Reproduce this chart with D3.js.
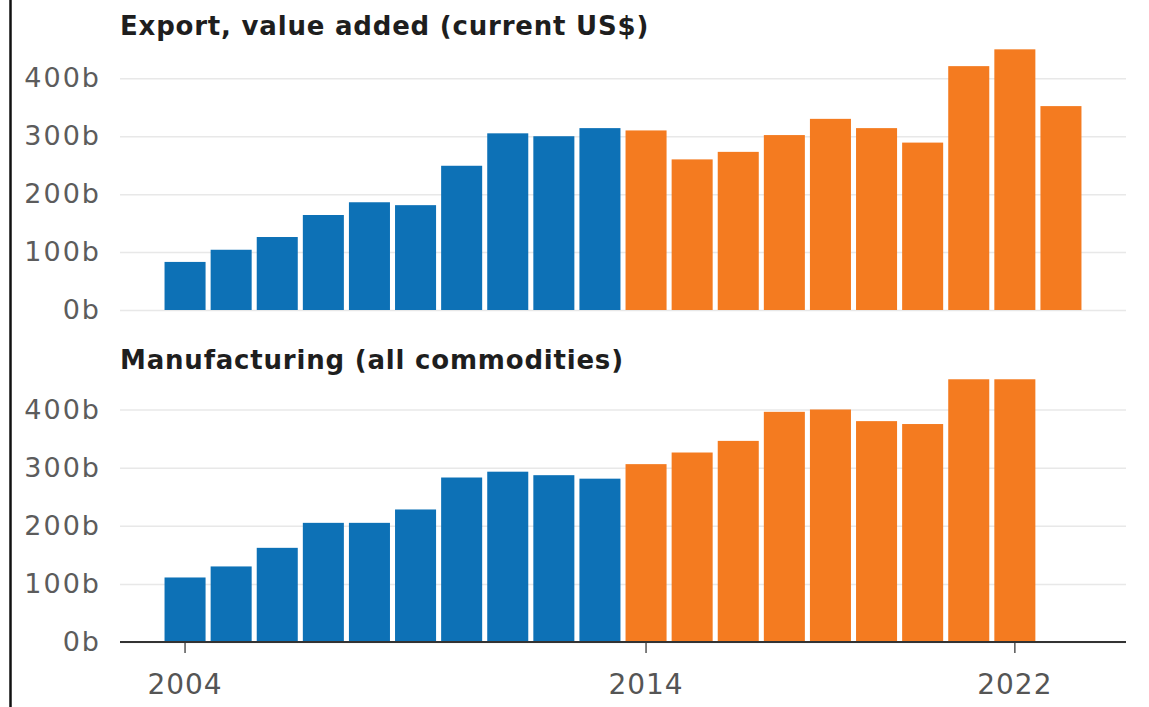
<!DOCTYPE html>
<html>
<head>
<meta charset="utf-8">
<script src="https://cdn.jsdelivr.net/npm/d3@7"></script>
<style>
  html, body { margin: 0; padding: 0; background: #fff; }
</style>
</head>
<body>
<div id="chart"></div>
<script>
'use strict';

// data, billions of US$
const years = [2004, 2005, 2006, 2007, 2008, 2009, 2010, 2011, 2012, 2013,
  2014, 2015, 2016, 2017, 2018, 2019, 2020, 2021, 2022, 2023]
const export_values = [83, 104, 126, 164, 186, 181, 249, 305, 300, 314,
  310, 260, 273, 302, 330, 314, 289, 421, 450, 352]
const manufacturing_values = [111, 130, 162, 205, 205, 228, 283, 293, 287, 281,
  306, 326, 346, 396, 400, 380, 375, 452, 452, null]
const split_year = 2014
const y_ticks = [0, 100, 200, 300, 400]
const x_ticks = [2004, 2014, 2022]
const panel_titles = ['Export, value added (current US$)', 'Manufacturing (all commodities)']

const colors = { before: '#0d71b6', after: '#f47b20' }
const font = "'DejaVu Sans', sans-serif"

const dimensions = {
  width: 1149,
  height: 707,
  grid_left: 120,
  grid_right: 1126,
  bars_left: 162,
  bars_right: 1084
}

const panels = [
  { title: panel_titles[0], values: export_values, top: 78.3, bottom: 310, title_y: 35, axis: false },
  { title: panel_titles[1], values: manufacturing_values, top: 409.5, bottom: 642, title_y: 369, axis: true }
]

const svg_el = d3.select('#chart')
.append('svg')
.attr('width', dimensions.width)
.attr('height', dimensions.height)
.style('font-family', font)

// left frame line
svg_el.append('line')
.attr('x1', 10.5)
.attr('x2', 10.5)
.attr('y1', 0)
.attr('y2', dimensions.height)
.style('stroke', '#111')
.style('stroke-width', 2.5)

const xScale = d3.scaleBand()
.domain(years)
.range([dimensions.bars_left, dimensions.bars_right])
.paddingInner(0.11)
.paddingOuter(0.055)

panels.forEach(function(p){
  const yScale = d3.scaleLinear()
  .domain([0, 400])
  .range([p.bottom, p.top])

  const g = svg_el.append('g')

  // title
  g.append('text')
  .attr('x', 120)
  .attr('y', p.title_y)
  .style('font-weight', 'bold')
  .style('font-size', '26px')
  .style('letter-spacing', '0.8px')
  .style('fill', '#1e1e1e')
  .text(p.title)

  // grid lines + labels
  const yAxis = d3.axisLeft(yScale)
  .tickValues(y_ticks)
  .tickSize(-(dimensions.grid_right - dimensions.grid_left))
  .tickPadding(19)
  .tickFormat((d) => d + 'b')

  const yAxisGroup = g.append('g')
  .attr('transform', `translate(${dimensions.grid_left}, 0)`)
  .call(yAxis)
  yAxisGroup.select('.domain').remove()
  yAxisGroup.selectAll('.tick line')
  .style('stroke', '#e8e8e8')
  .style('stroke-width', 1.5)
  yAxisGroup.selectAll('.tick text')
  .style('font-size', '27px')
  .style('letter-spacing', '2px')
  .style('fill', '#5c5c5c')
  .style('font-family', font)

  // bars
  const bar_data = years
  .map((yr, i) => ({ year: yr, value: p.values[i] }))
  .filter((d) => d.value !== null)

  g.append('g')
  .selectAll('rect')
  .data(bar_data)
  .join('rect')
  .attr('x', (d) => xScale(d.year))
  .attr('width', xScale.bandwidth())
  .attr('y', (d) => yScale(d.value))
  .attr('height', (d) => yScale(0) - yScale(d.value))
  .style('fill', (d) => d.year < split_year ? colors.before : colors.after)

  // bottom axis
  if(p.axis){
    g.append('line')
    .attr('x1', dimensions.grid_left)
    .attr('x2', dimensions.grid_right)
    .attr('y1', yScale(0))
    .attr('y2', yScale(0))
    .style('stroke', '#333')
    .style('stroke-width', 2)

    const xAxis = d3.axisBottom(xScale)
    .tickValues(x_ticks)
    .tickSize(10)
    .tickPadding(21)

    const xAxisGroup = g.append('g')
    .attr('transform', `translate(0, ${yScale(0) + 1})`)
    .call(xAxis)
    xAxisGroup.select('.domain').remove()
    xAxisGroup.selectAll('.tick line')
    .style('stroke', '#555')
    .style('stroke-width', 1.5)
    xAxisGroup.selectAll('.tick text')
    .style('font-size', '28px')
    .style('letter-spacing', '1px')
    .style('fill', '#555')
    .style('font-family', font)
  }
})
</script>
</body>
</html>
